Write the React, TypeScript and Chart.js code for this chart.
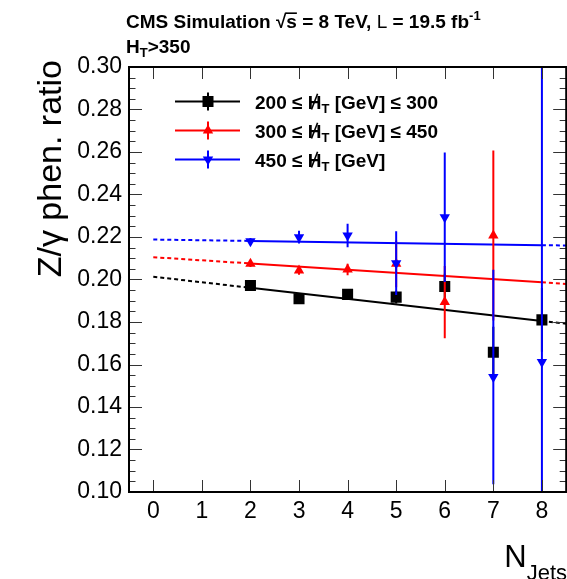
import React, { useEffect, useRef } from "react";
import { Chart, registerables } from "chart.js";

Chart.register(...registerables);

// ---- data ----
const nJets = [2, 3, 4, 5, 6, 7, 8];
const nJetsMid = [2, 3, 4, 5, 6, 7];
const ratioLow = [0.1972, 0.1909, 0.193, 0.1917, 0.1967, 0.1658, 0.181];
const errLow = [0.0015, 0.002, 0.002, 0.003, 0.006, 0.012, 0.015];
const ratioMid = [0.2074, 0.2042, 0.2047, 0.2074, 0.1894, 0.2207];
const errMid = [0.0015, 0.002, 0.0027, 0.011, 0.017, 0.04];
const ratioHigh = [0.218, 0.2199, 0.2207, 0.2077, 0.2293, 0.1541, 0.1612];
const errHigh = [0.0015, 0.003, 0.0055, 0.015, 0.0305, 0.0505, 0.16];
const fitIntercept = [0.2013, 0.2105, 0.2188];
const fitSlope = [-0.0026, -0.00148, -0.00033];
const fitSolidRange = [2, 8];
const fitDashLeft = [0, 2];
const fitDashRight = [8, 8.5];
const yTicks = [0.1, 0.12, 0.14, 0.16, 0.18, 0.2, 0.22, 0.24, 0.26, 0.28, 0.3];
const xTicks = [0, 1, 2, 3, 4, 5, 6, 7, 8];
const seriesColors = ["#000000", "#ff0000", "#0000ff"];
const legendPrefix = ["200 ≤ ", "300 ≤ ", "450 ≤ "];
const legendSuffix = [" [GeV] ≤ 300", " [GeV] ≤ 450", " [GeV]"];
const yTitle = "Z/γ phen. ratio";

const FONT = '"Liberation Sans", Arial, Helvetica, sans-serif';
const VIEW_W = 567;
const VIEW_H = 579;
const CANVAS_W = 574;

type Seg = { text: string; size: number; bold?: boolean; dy?: number; slash?: boolean; over?: boolean };

function drawSegs(ctx: CanvasRenderingContext2D, x: number, y: number, segs: Seg[]) {
  ctx.textAlign = "left";
  ctx.textBaseline = "alphabetic";
  for (const s of segs) {
    ctx.font = `${s.bold ? "bold " : ""}${s.size}px ${FONT}`;
    const yy = y + (s.dy || 0);
    ctx.fillText(s.text, x, yy);
    const w = ctx.measureText(s.text).width;
    if (s.slash) {
      ctx.save();
      ctx.lineWidth = 1.6;
      ctx.beginPath();
      ctx.moveTo(x + w * 0.28, yy + 1);
      ctx.lineTo(x + w * 0.72, yy - s.size * 0.78);
      ctx.stroke();
      ctx.restore();
    }
    if (s.over) {
      ctx.save();
      ctx.lineWidth = 1.6;
      ctx.beginPath();
      ctx.moveTo(x - 1, yy - s.size * 0.78);
      ctx.lineTo(x + w, yy - s.size * 0.78);
      ctx.stroke();
      ctx.restore();
    }
    x += w;
  }
  return x;
}

function drawMarker(ctx: CanvasRenderingContext2D, kind: number, x: number, y: number, color: string) {
  ctx.fillStyle = color;
  ctx.beginPath();
  if (kind === 0) {
    ctx.rect(x - 5.5, y - 5.5, 11, 11);
  } else {
    const r = 6;
    const d = kind === 1 ? 1 : -1;
    ctx.moveTo(x, y - d * r);
    ctx.lineTo(x + r * 0.866, y + d * r * 0.5);
    ctx.lineTo(x - r * 0.866, y + d * r * 0.5);
    ctx.closePath();
  }
  ctx.fill();
}

const errorMap: Record<number, { xs: number[]; ys: number[]; es: number[]; color: string }> = {
  0: { xs: nJets, ys: ratioHigh, es: errHigh, color: seriesColors[2] },
  1: { xs: nJetsMid, ys: ratioMid, es: errMid, color: seriesColors[1] },
  2: { xs: nJets, ys: ratioLow, es: errLow, color: seriesColors[0] },
};

const decorPlugin = {
  id: "decor",
  beforeDatasetDraw(chart: any, args: any) {
    const e = errorMap[args.index];
    if (!e) return;
    const { ctx, chartArea: a } = chart;
    const xs = chart.scales.x;
    const ys = chart.scales.y;
    ctx.save();
    ctx.beginPath();
    ctx.rect(a.left, a.top, a.right - a.left, a.bottom - a.top);
    ctx.clip();
    ctx.strokeStyle = e.color;
    ctx.lineWidth = 2;
    for (let i = 0; i < e.xs.length; i++) {
      const px = xs.getPixelForValue(e.xs[i]);
      ctx.beginPath();
      ctx.moveTo(px, ys.getPixelForValue(e.ys[i] + e.es[i]));
      ctx.lineTo(px, ys.getPixelForValue(e.ys[i] - e.es[i]));
      ctx.stroke();
    }
    ctx.restore();
  },
  afterDraw(chart: any) {
    const { ctx, chartArea: a } = chart;
    const xs = chart.scales.x;
    const ys = chart.scales.y;
    ctx.save();
    // ticks
    ctx.strokeStyle = "#333";
    ctx.lineWidth = 1;
    for (let i = 0; i <= 40; i++) {
      const v = 0.1 + i * 0.005;
      const py = Math.round(ys.getPixelForValue(v)) + 0.5;
      const len = i % 4 === 0 ? 13 : 6.5;
      ctx.beginPath();
      ctx.moveTo(a.left, py);
      ctx.lineTo(a.left + len, py);
      ctx.moveTo(a.right, py);
      ctx.lineTo(a.right - len, py);
      ctx.stroke();
    }
    for (const v of xTicks) {
      const px = Math.round(xs.getPixelForValue(v)) + 0.5;
      ctx.beginPath();
      ctx.moveTo(px, a.bottom);
      ctx.lineTo(px, a.bottom - 12);
      ctx.moveTo(px, a.top);
      ctx.lineTo(px, a.top + 12);
      ctx.stroke();
    }
    // frame
    ctx.strokeStyle = "#000";
    ctx.lineWidth = 2;
    ctx.strokeRect(a.left, a.top, a.right - a.left, a.bottom - a.top);

    // titles
    ctx.fillStyle = "#000";
    ctx.strokeStyle = "#000";
    drawSegs(ctx, 126, 28, [
      { text: "CMS Simulation ", size: 19, bold: true },
      { text: "√", size: 19, bold: true },
      { text: "s", size: 19, bold: true, over: true },
      { text: " = 8 TeV, ", size: 19, bold: true },
      { text: "L", size: 19 },
      { text: " = 19.5 fb", size: 19, bold: true },
      { text: "-1", size: 13, bold: true, dy: -8 },
    ]);
    drawSegs(ctx, 126, 53, [
      { text: "H", size: 19, bold: true },
      { text: "T", size: 13, bold: true, dy: 4 },
      { text: ">350", size: 19, bold: true },
    ]);

    // y title
    ctx.save();
    ctx.translate(61, 60);
    ctx.rotate(-Math.PI / 2);
    ctx.font = `34px ${FONT}`;
    ctx.textAlign = "right";
    ctx.textBaseline = "alphabetic";
    ctx.fillText(yTitle, 0, 0);
    ctx.restore();

    // x title
    ctx.font = `31px ${FONT}`;
    const wN = ctx.measureText("N").width;
    ctx.font = `22px ${FONT}`;
    const wJ = ctx.measureText("Jets").width;
    const x0 = VIEW_W - wN - wJ;
    drawSegs(ctx, x0, 567, [
      { text: "N", size: 31 },
      { text: "Jets", size: 22, dy: 13 },
    ]);

    // legend
    const rows = [101.5, 130.5, 159.5];
    for (let i = 0; i < 3; i++) {
      const y = rows[i];
      const c = seriesColors[i];
      ctx.strokeStyle = c;
      ctx.lineWidth = 2;
      ctx.beginPath();
      ctx.moveTo(175, y);
      ctx.lineTo(240, y);
      ctx.moveTo(208, y - 9);
      ctx.lineTo(208, y + 9);
      ctx.stroke();
      drawMarker(ctx, i, 208, y, c);
      ctx.fillStyle = "#000";
      ctx.strokeStyle = "#000";
      drawSegs(ctx, 255, y + 7, [
        { text: legendPrefix[i], size: 19, bold: true },
        { text: "H", size: 19, bold: true, slash: true },
        { text: "T", size: 13, bold: true, dy: 4 },
        { text: legendSuffix[i], size: 19, bold: true },
      ]);
    }
    ctx.restore();
  },
};

function fitPts(k: number, range: number[]) {
  return range.map((x) => ({ x, y: fitIntercept[k] + fitSlope[k] * x }));
}

export default function App() {
  const ref = useRef<HTMLCanvasElement | null>(null);
  useEffect(() => {
    if (!ref.current) return;
    const ptDs = (xs: number[], ys: number[], color: string, style: string, radius: number, rot: number) => ({
      data: xs.map((x, i) => ({ x, y: ys[i] })),
      pointStyle: style,
      pointRadius: radius,
      pointRotation: rot,
      backgroundColor: color,
      borderColor: color,
      borderWidth: 0,
      showLine: false,
    });
    const lineDs = (k: number, range: number[], dash: number[]) => ({
      data: fitPts(k, range),
      showLine: true,
      borderColor: seriesColors[k],
      borderWidth: 2,
      borderDash: dash,
      pointRadius: 0,
      fill: false,
    });
    const datasets: any[] = [
      ptDs(nJets, ratioHigh, seriesColors[2], "triangle", 6, 180),
      ptDs(nJetsMid, ratioMid, seriesColors[1], "triangle", 6, 0),
      ptDs(nJets, ratioLow, seriesColors[0], "rect", 7.8, 0),
    ];
    for (let k = 0; k < 3; k++) {
      datasets.push(lineDs(k, fitSolidRange, []));
      datasets.push(lineDs(k, fitDashLeft, [4, 3]));
      datasets.push(lineDs(k, fitDashRight, [4, 3]));
    }
    const chart = new Chart(ref.current, {
      type: "scatter",
      data: { datasets },
      options: {
        animation: false,
        responsive: false,
        devicePixelRatio: 1,
        events: [],
        layout: { padding: { top: 67, left: 0, right: 0, bottom: 0 } },
        plugins: { legend: { display: false }, tooltip: { enabled: false }, title: { display: false } },
        scales: {
          x: {
            type: "linear",
            min: -0.5,
            max: 8.5,
            afterBuildTicks: (s: any) => {
              s.ticks = xTicks.map((v) => ({ value: v }));
            },
            afterFit: (s: any) => {
              s.height = 87;
              s.paddingLeft = 0;
              s.paddingRight = 0;
            },
            grid: { display: false, drawTicks: false },
            border: { display: false },
            ticks: {
              color: "#000",
              font: { family: FONT, size: 23 },
              padding: 6,
              maxRotation: 0,
              autoSkip: false,
              callback: (v: any) => String(v),
            },
          },
          y: {
            type: "linear",
            min: 0.1,
            max: 0.3,
            afterBuildTicks: (s: any) => {
              s.ticks = yTicks.map((v) => ({ value: v }));
            },
            afterFit: (s: any) => {
              s.width = 129;
              s.paddingTop = 0;
              s.paddingBottom = 0;
            },
            grid: { display: false, drawTicks: false },
            border: { display: false },
            ticks: {
              color: "#000",
              font: { family: FONT, size: 23 },
              padding: 7,
              autoSkip: false,
              callback: (v: any) => Number(v).toFixed(2),
            },
          },
        },
      },
      plugins: [decorPlugin],
    } as any);
    return () => chart.destroy();
  }, []);
  return (
    <div
      style={{
        position: "fixed",
        left: 0,
        top: 0,
        width: VIEW_W,
        height: VIEW_H,
        overflow: "hidden",
        background: "#fff",
      }}
    >
      <canvas
        ref={ref}
        width={CANVAS_W}
        height={VIEW_H}
        style={{ width: CANVAS_W, height: VIEW_H, display: "block" }}
      />
    </div>
  );
}
